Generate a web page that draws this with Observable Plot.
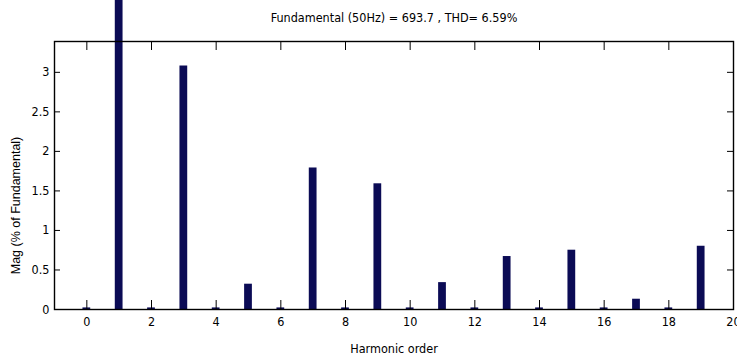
<!DOCTYPE html>
<html><head><meta charset="utf-8">
<script src="https://cdn.jsdelivr.net/npm/d3@7"></script>
<script src="https://cdn.jsdelivr.net/npm/@observablehq/plot@0.6"></script>
<style>html,body{margin:0;padding:0;background:#fff;overflow:hidden}</style>
</head><body><div id="chart"></div>
<script>
const harmonics  = [0, 1, 2, 3, 4, 5, 6, 7, 8, 9, 10, 11, 12, 13, 14, 15, 16, 17, 18, 19];
const magnitudes = [0.02, 100, 0.02, 3.08, 0.02, 0.32, 0.02, 1.79, 0.02, 1.59, 0.02, 0.34, 0.02, 0.67, 0.02, 0.75, 0.02, 0.13, 0.02, 0.80];
const xTicks = [0, 2, 4, 6, 8, 10, 12, 14, 16, 18, 20];
const yTicks = [0, 0.5, 1, 1.5, 2, 2.5, 3];
const titleText = "Fundamental (50Hz) = 693.7 , THD= 6.59%";
const xLabel = "Harmonic order";
const yLabel = "Mag (% of Fundamental)";

const data = harmonics.map((h, i) => ({h, m: magnitudes[i]}));
const narrow = "'Liberation Sans Narrow', 'DejaVu Sans Condensed', 'Arial Narrow', sans-serif";
const W = 737, H = 358, mt = 41, mr = 4, mb = 49, ml = 54;
const fw = W - ml - mr, fh = H - mt - mb;

const chart = Plot.plot({
  width: W, height: H,
  marginTop: mt, marginRight: mr, marginBottom: mb, marginLeft: ml,
  style: {fontFamily: narrow, background: "#fff", color: "#000"},
  x: {domain: [-1, 20]},
  y: {domain: [0, 3.39]},
  marks: [
    Plot.rectY(data, {x1: d => d.h - 0.12, x2: d => d.h + 0.12, y: "m", fill: "#0b0b55"}),
    Plot.tickX(xTicks, {x: d => d, insetTop: fh - 9, stroke: "#000", strokeWidth: 1}),
    Plot.tickX(xTicks, {x: d => d, insetBottom: fh - 9, stroke: "#000", strokeWidth: 1}),
    Plot.tickY(yTicks, {y: d => d, insetRight: fw - 6, stroke: "#000", strokeWidth: 1}),
    Plot.tickY(yTicks, {y: d => d, insetLeft: fw - 6, stroke: "#000", strokeWidth: 1}),
    Plot.frame({stroke: "#000", strokeWidth: 1.4}),
    Plot.axisX({ticks: xTicks, tickSize: 0, tickPadding: 8, label: null, fontSize: 12.5, fontFamily: narrow, tickFormat: d => String(d)}),
    Plot.axisY({ticks: yTicks, tickSize: 0, tickPadding: 5, label: null, fontSize: 12.5, fontFamily: narrow, tickFormat: d => String(d)}),
    Plot.text([titleText], {text: d => d, frameAnchor: "top", lineAnchor: "middle", dy: -24, fontSize: 12.5, fontFamily: narrow, fill: "#000"}),
    Plot.text([xLabel], {text: d => d, frameAnchor: "bottom", lineAnchor: "middle", dy: 39, fontSize: 12.5, fontFamily: narrow, fill: "#000"}),
    Plot.text([yLabel], {text: d => d, frameAnchor: "left", textAnchor: "middle", lineAnchor: "middle", rotate: -90, dx: -39, dy: 30, fontSize: 12.5, fontFamily: "'Liberation Sans', Arial, sans-serif", fill: "#000"})
  ]
});
document.getElementById("chart").appendChild(chart);
</script>
</body></html>
